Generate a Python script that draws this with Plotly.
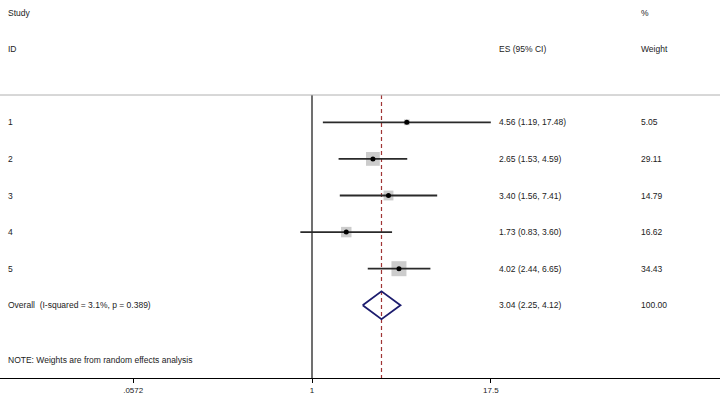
import math
import plotly.graph_objects as go

study_ids = ["1", "2", "3", "4", "5"]
es = [4.56, 2.65, 3.40, 1.73, 4.02]
ci_lo = [1.19, 1.53, 1.56, 0.83, 2.44]
ci_hi = [17.48, 4.59, 7.41, 3.60, 6.65]
weights = [5.05, 29.11, 14.79, 16.62, 34.43]
overall_label = "Overall  (I-squared = 3.1%, p = 0.389)"
overall_es, overall_lo, overall_hi, overall_w = 3.04, 2.25, 4.12, 100.00
tick_vals = [0.0572, 1, 17.5]
tick_text = [".0572", "1", "17.5"]
note = "NOTE: Weights are from random effects analysis"

W, H = 720, 394
FONT = "Liberation Sans, Arial, sans-serif"
FS = 8.5
rows = list(range(len(es)))
r_over = len(es)

fig = go.Figure()

# weight boxes
fig.add_trace(go.Scatter(
    x=es, y=rows, mode="markers",
    marker=dict(symbol="square", size=[2.56 * math.sqrt(w) for w in weights],
                color="#b6b6b6", line=dict(width=0)),
    hoverinfo="skip", showlegend=False))

# CI lines
cx, cy = [], []
for i in rows:
    cx += [ci_lo[i], ci_hi[i], None]
    cy += [i, i, None]
fig.add_trace(go.Scatter(x=cx, y=cy, mode="lines",
                         line=dict(color="#2a2a2a", width=1.8),
                         hoverinfo="skip", showlegend=False))

# point estimates
fig.add_trace(go.Scatter(x=es, y=rows, mode="markers",
                         marker=dict(symbol="circle", size=5, color="black"),
                         hoverinfo="skip", showlegend=False))

# overall diamond
hh = 0.38
fig.add_trace(go.Scatter(
    x=[overall_lo, overall_es, overall_hi, overall_es, overall_lo],
    y=[r_over, r_over - hh, r_over, r_over + hh, r_over],
    mode="lines", line=dict(color="#1c1c6e", width=1.8),
    hoverinfo="skip", showlegend=False))

ROW_PX = 36.6
PLOT_H = 378
y_top = -122.3 / ROW_PX
y_bottom = y_top + PLOT_H / ROW_PX
y_top_line = y_top + 95 / ROW_PX

# no-effect line at 1
fig.add_shape(type="line", x0=1, x1=1, y0=y_top_line, y1=y_bottom, xref="x", yref="y",
              line=dict(color="#404040", width=1.5), layer="below")
# overall dashed line
fig.add_shape(type="line", x0=overall_es, x1=overall_es, y0=y_top_line, y1=y_bottom,
              xref="x", yref="y", line=dict(color="#a03535", width=1.2, dash="4px,3px"),
              layer="below")
# header separator
fig.add_shape(type="line", x0=0, x1=1, y0=y_top_line, y1=y_top_line, xref="paper", yref="y",
              line=dict(color="#b0b0b0", width=1))

def txt(x_px, y, s):
    fig.add_annotation(x=x_px / W, y=y, xref="paper", yref="y", text=s, showarrow=False,
                       xanchor="left", yanchor="middle",
                       font=dict(family=FONT, size=FS, color="#222222"))

x_lab, x_es, x_w = 6, 497, 639
txt(x_lab, -3, "Study")
txt(x_w, -3, "%")
txt(x_lab, -2, "ID")
txt(x_es, -2, "ES (95% CI)")
txt(x_w, -2, "Weight")
for i in rows:
    txt(x_lab, i, study_ids[i])
    txt(x_es, i, f"{es[i]:.2f} ({ci_lo[i]:.2f}, {ci_hi[i]:.2f})")
    txt(x_w, i, f"{weights[i]:.2f}")
txt(x_lab, r_over, overall_label)
txt(x_es, r_over, f"{overall_es:.2f} ({overall_lo:.2f}, {overall_hi:.2f})")
txt(x_w, r_over, f"{overall_w:.2f}")
txt(x_lab, 6.5, note)

px_per_dec = 62.5 * math.log(10)
x0 = -312 / px_per_dec
x1 = (W - 312) / px_per_dec

fig.update_layout(
    width=W, height=H,
    margin=dict(l=0, r=0, t=0, b=H - PLOT_H, autoexpand=False),
    plot_bgcolor="white", paper_bgcolor="white",
    font=dict(family=FONT, size=FS, color="#222222"),
    xaxis=dict(type="log", range=[x0, x1], tickvals=tick_vals, ticktext=tick_text,
               ticks="outside", ticklen=4, tickcolor="black", showline=True,
               linecolor="black", linewidth=1.2, showgrid=False, zeroline=False,
               automargin=False,
               tickfont=dict(family=FONT, size=8, color="#222222")),
    yaxis=dict(range=[y_bottom, y_top], visible=False, showgrid=False, zeroline=False,
               automargin=False),
)

fig.write_html("out.html", config={"displayModeBar": False},
               post_script="document.body.style.margin='0';document.body.style.overflow='hidden';")
